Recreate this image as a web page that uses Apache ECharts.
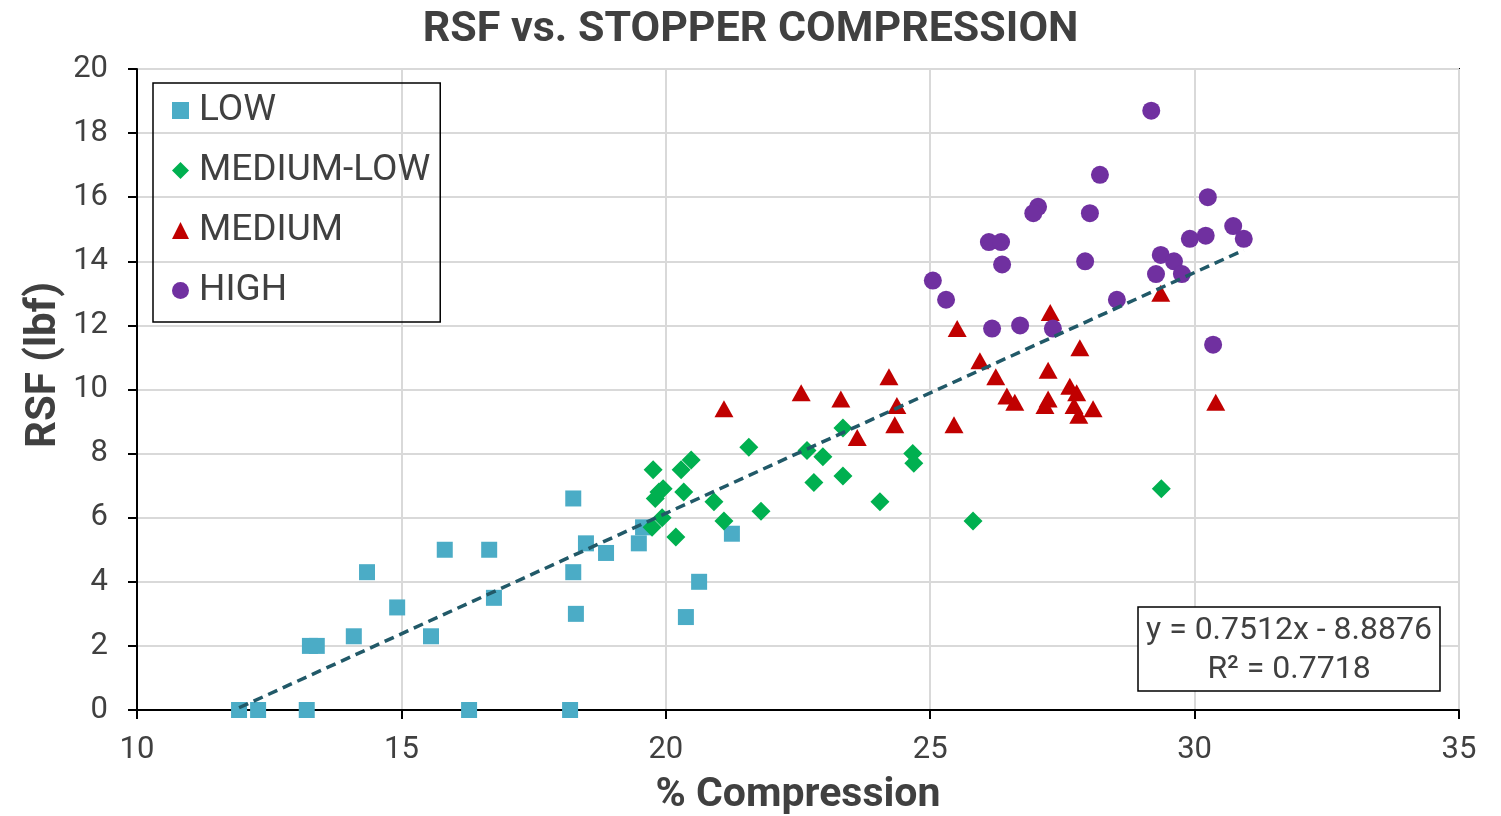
<!DOCTYPE html>
<html>
<head>
<meta charset="utf-8">
<script src="https://cdn.jsdelivr.net/npm/echarts@6/dist/echarts.min.js"></script>
<style>
  html, body { margin: 0; padding: 0; background: #fff; }
  #main { width: 1501px; height: 816px; }
</style>
</head>
<body>
<div id="main"></div>
<script>
// LOW
var lowX = [11.93, 12.29, 13.21, 13.27, 13.40, 14.10, 14.35, 14.92, 15.56, 15.82, 16.28, 16.66, 16.75,
  18.19, 18.25, 18.25, 18.30, 18.49, 18.87, 19.49, 19.57, 20.38, 20.63, 21.25];
var lowY = [0, 0, 0, 2.0, 2.0, 2.3, 4.3, 3.2, 2.3, 5.0, 0, 5.0, 3.5,
  0, 6.6, 4.3, 3.0, 5.2, 4.9, 5.2, 5.7, 2.9, 4.0, 5.5];
// MEDIUM-LOW
var medLowX = [19.76, 19.95, 19.80, 19.87, 20.29, 20.48, 20.34, 19.93, 19.74, 20.19, 20.91, 21.10,
  21.57, 21.80, 22.67, 22.80, 22.97, 23.35, 23.35, 24.05, 24.67, 24.69, 25.81, 29.37];
var medLowY = [7.5, 6.9, 6.6, 6.8, 7.5, 7.8, 6.8, 6.0, 5.7, 5.4, 6.5, 5.9,
  8.2, 6.2, 8.1, 7.1, 7.9, 8.8, 7.3, 6.5, 8.0, 7.7, 5.9, 6.9];
// MEDIUM
var medX = [21.10, 22.56, 23.31, 23.62, 24.22, 24.37, 24.33, 25.45, 25.51, 25.94, 26.24, 26.45, 26.60,
  27.27, 27.23, 27.23, 27.17, 27.64, 27.77, 27.72, 27.81, 27.83, 28.08, 29.36, 30.40];
var medY = [9.4, 9.9, 9.7, 8.5, 10.4, 9.5, 8.9, 8.9, 11.9, 10.9, 10.4, 9.8, 9.6,
  12.4, 10.6, 9.7, 9.5, 10.1, 9.9, 9.5, 9.2, 11.3, 9.4, 13.0, 9.6];
// HIGH
var highX = [29.18, 28.21, 30.25, 27.04, 26.95, 28.02, 30.73, 30.93, 26.11, 26.34, 30.21, 29.91, 26.36,
  27.93, 29.36, 29.61, 29.76, 29.27, 25.05, 25.30, 28.53, 26.17, 26.70, 27.32, 30.35];
var highY = [18.7, 16.7, 16.0, 15.7, 15.5, 15.5, 15.1, 14.7, 14.6, 14.6, 14.8, 14.7, 13.9,
  14.0, 14.2, 14.0, 13.6, 13.6, 13.4, 12.8, 12.8, 11.9, 12.0, 11.9, 11.4];
// linear trendline end points
var trendX = [11.93, 30.93];
var trendY = [0.07, 14.35];

function pairs(xs, ys) {
  return xs.map(function (x, i) { return [x, ys[i]]; });
}

var chart = echarts.init(document.getElementById('main'));
var font = 'Roboto';
var textCol = '#404040';
var option = {
  animation: false,
  textStyle: { fontFamily: font },
  title: {
    text: 'RSF vs. STOPPER COMPRESSION',
    left: 'center',
    top: 4,
    textStyle: { fontFamily: font, fontSize: 43, fontWeight: 'bold', color: textCol }
  },
  grid: {
    left: 137, right: 42, top: 69, bottom: 106,
    outerBoundsMode: 'none',
    containLabel: false,
    show: true, borderColor: '#000', borderWidth: 2
  },
  legend: {
    orient: 'vertical',
    left: 153, top: 83,
    data: ['LOW', 'MEDIUM-LOW', 'MEDIUM', 'HIGH'],
    borderColor: '#000', borderWidth: 1.5,
    padding: [9, 10, 13, 19],
    itemGap: 23,
    itemWidth: 17, itemHeight: 17,
    textStyle: { fontFamily: font, fontSize: 37, color: textCol, lineHeight: 37, padding: [0, 0, 0, 5] }
  },
  xAxis: {
    type: 'value',
    min: 10, max: 35, interval: 5,
    name: '% Compression',
    nameLocation: 'middle',
    nameGap: 65,
    nameTextStyle: { fontFamily: font, fontSize: 41, fontWeight: 'bold', color: textCol },
    axisLine: { lineStyle: { color: '#000', width: 2 } },
    axisTick: { show: true, length: 9, lineStyle: { color: '#000', width: 2 } },
    axisLabel: { fontFamily: font, fontSize: 31, color: textCol, margin: 25 },
    splitLine: { lineStyle: { color: '#d9d9d9', width: 2 } }
  },
  yAxis: {
    type: 'value',
    min: 0, max: 20, interval: 2,
    axisLine: { lineStyle: { color: '#000', width: 2 } },
    axisTick: { show: true, length: 9, lineStyle: { color: '#000', width: 2 } },
    axisLabel: { fontFamily: font, fontSize: 31, color: textCol, margin: 29 },
    splitLine: { lineStyle: { color: '#d9d9d9', width: 2 } }
  },
  series: [
    {
      name: 'LOW', type: 'scatter', symbol: 'rect', symbolSize: 16,
      itemStyle: { color: '#4BACC6', opacity: 1 },
      data: pairs(lowX, lowY), z: 3
    },
    {
      name: 'MEDIUM-LOW', type: 'scatter', symbol: 'diamond', symbolSize: 19,
      itemStyle: { color: '#00B050', opacity: 1 },
      data: pairs(medLowX, medLowY), z: 3
    },
    {
      name: 'MEDIUM', type: 'scatter', symbol: 'triangle', symbolSize: [19, 17],
      itemStyle: { color: '#C00000', opacity: 1 },
      data: pairs(medX, medY), z: 3
    },
    {
      name: 'HIGH', type: 'scatter', symbol: 'circle', symbolSize: 18,
      itemStyle: { color: '#7030A0', opacity: 1 },
      data: pairs(highX, highY), z: 3
    },
    {
      name: 'trend', type: 'line', showSymbol: false, symbol: 'none',
      lineStyle: { color: '#215968', width: 3.5, type: [10, 6] },
      data: pairs(trendX, trendY), z: 4, silent: true
    }
  ],
  graphic: [
    {
      type: 'text', x: 44, y: 365, rotation: Math.PI / 2, z: 11,
      style: { text: 'RSF (lbf)', fontFamily: font, fontSize: 42, fontWeight: 'bold', fill: textCol,
        textAlign: 'center', textVerticalAlign: 'middle' }
    },
    {
      type: 'rect',
      shape: { x: 1138, y: 607, width: 302, height: 84 },
      style: { fill: '#fff', stroke: '#000', lineWidth: 1.5 },
      z: 10
    },
    {
      type: 'text', x: 1289, y: 631, z: 11,
      style: { text: 'y = 0.7512x - 8.8876', fontFamily: font, fontSize: 32, fill: textCol,
        textAlign: 'center', textVerticalAlign: 'middle' }
    },
    {
      type: 'text', x: 1289, y: 670, z: 11,
      style: { text: 'R² = 0.7718', fontFamily: font, fontSize: 32, fill: textCol,
        textAlign: 'center', textVerticalAlign: 'middle' }
    }
  ]
};
chart.setOption(option);
</script>
</body>
</html>
